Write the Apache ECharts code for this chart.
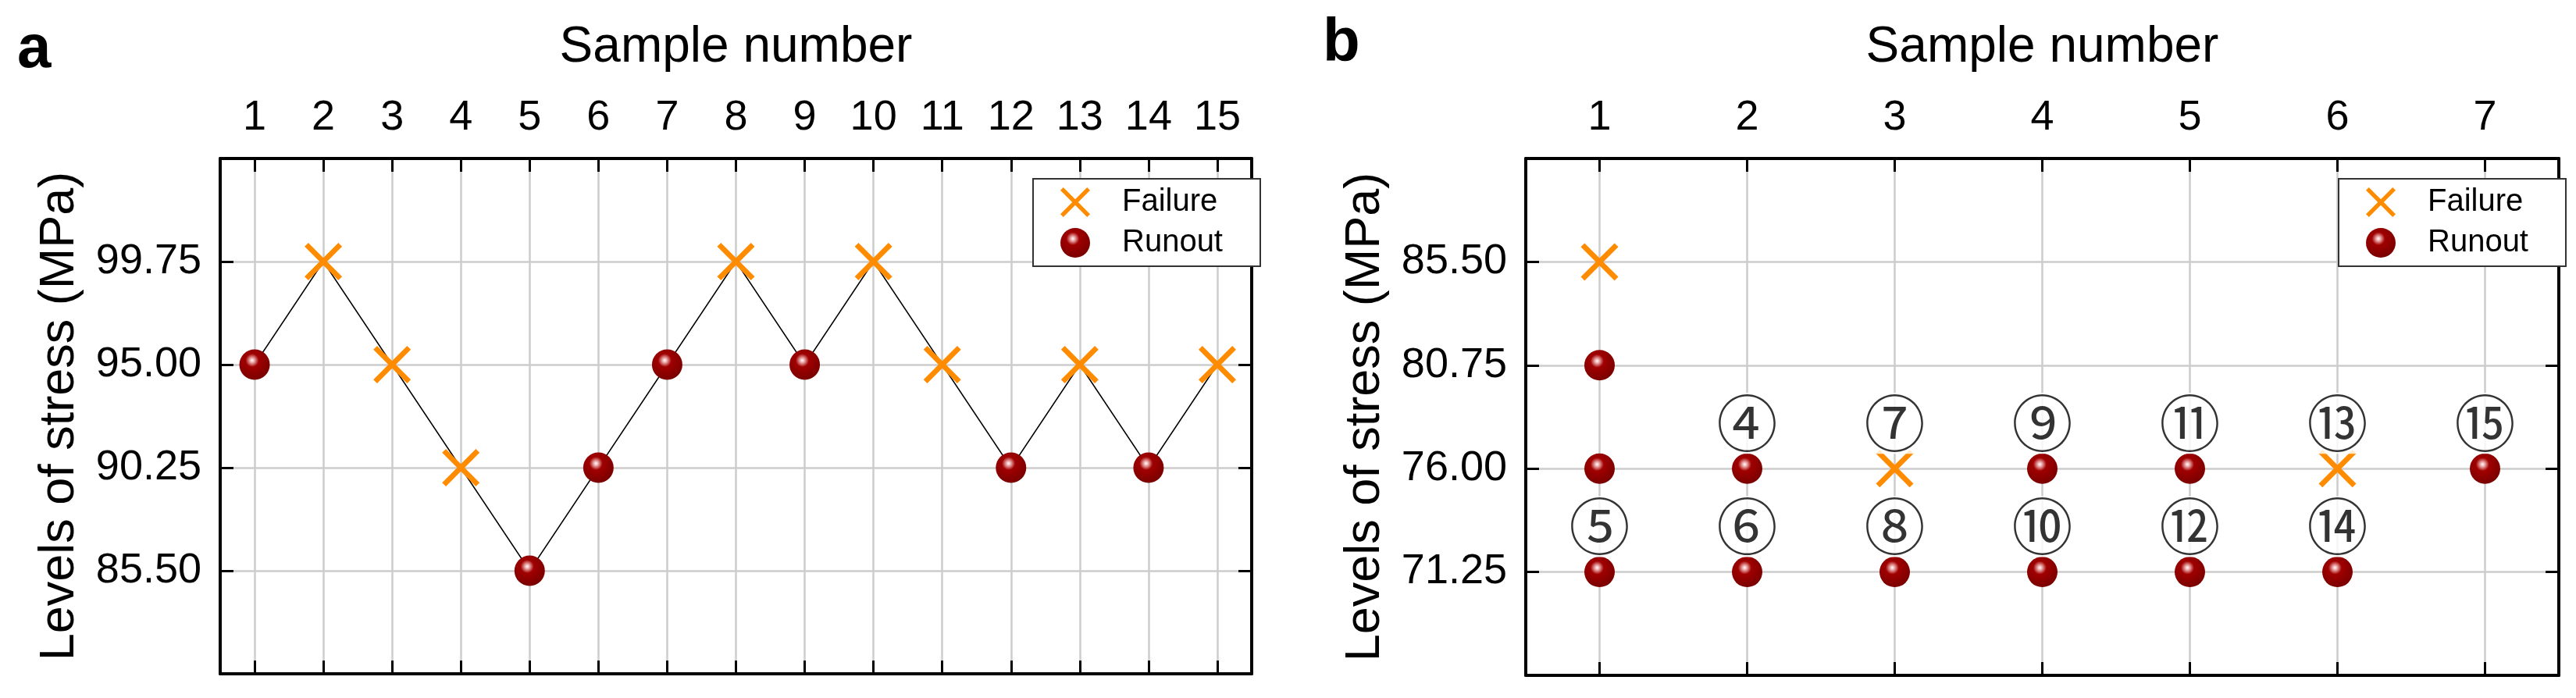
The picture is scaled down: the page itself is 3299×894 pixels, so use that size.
<!DOCTYPE html>
<html>
<head>
<meta charset="utf-8">
<script src="https://cdn.jsdelivr.net/npm/echarts@6/dist/echarts.min.js"></script>
<style>
  html, body { margin: 0; padding: 0; background: #fff; }
  #chart { width: 3299px; height: 894px; }
</style>
</head>
<body>
<div id="chart"></div>
<script>
// panel a: up-and-down sequence, 15 samples
const samplesA = [1, 2, 3, 4, 5, 6, 7, 8, 9, 10, 11, 12, 13, 14, 15];
const stressA = [95.00, 99.75, 95.00, 90.25, 85.50, 90.25, 95.00, 99.75, 95.00, 99.75, 95.00, 90.25, 95.00, 90.25, 95.00];
const resultA = ['R', 'F', 'F', 'F', 'R', 'R', 'R', 'F', 'R', 'F', 'F', 'R', 'F', 'R', 'F']; // F = failure, R = runout

// panel b: 7 columns, circled numbers give the test order
const samplesB = [1, 1, 1, 1, 2, 2, 3, 3, 4, 4, 5, 5, 6, 6, 7];
const stressB = [85.50, 80.75, 76.00, 71.25, 76.00, 71.25, 76.00, 71.25, 76.00, 71.25, 76.00, 71.25, 76.00, 71.25, 76.00];
const resultB = ['F', 'R', 'R', 'R', 'R', 'R', 'F', 'R', 'R', 'R', 'R', 'R', 'F', 'R', 'R'];
const orderB = ['', '', '', '⑤', '④', '⑥', '⑦', '⑧', '⑨', '⑩', '⑪', '⑫', '⑬', '⑭', '⑮'];

// axis ticks / labels
const sampleTicksA = samplesA;
const levelTicksA = [80.75, 85.50, 90.25, 95.00, 99.75, 104.50];
const levelLabelsA = [85.50, 90.25, 95.00, 99.75];
const sampleTicksB = [1, 2, 3, 4, 5, 6, 7];
const levelTicksB = [66.50, 71.25, 76.00, 80.75, 85.50, 90.25];
const levelLabelsB = [71.25, 76.00, 80.75, 85.50];

const FONT = 'Liberation Sans';
const CROSS = 'path://M0,10 L10,0 L50,40 L90,0 L100,10 L60,50 L100,90 L90,100 L50,60 L10,100 L0,90 L40,50 Z';
const ORANGE = '#ff8c00';
const ball = {
  type: 'radial', x: 0.42, y: 0.36, r: 0.64,
  colorStops: [
    { offset: 0, color: '#ffffff' },
    { offset: 0.13, color: '#e8a0a0' },
    { offset: 0.34, color: '#a00000' },
    { offset: 1, color: '#7a0000' }
  ]
};

const axisLine = { show: true, onZero: false, lineStyle: { color: '#000', width: 4 } };
const tickStyle = { color: '#000', width: 3 };
const gridLine = { show: true, lineStyle: { color: '#cccccc', width: 2.5 } };

const xAxes = (grid, min, max, ticks) => [
  {
    type: 'value', gridIndex: grid, position: 'top', min, max,
    name: 'Sample number', nameLocation: 'middle', nameGap: 110, nameMoveOverlap: false,
    nameTextStyle: { fontSize: 64, color: '#000', fontFamily: FONT },
    axisLine,
    axisTick: { show: true, inside: true, length: 17, lineStyle: tickStyle, customValues: ticks },
    axisLabel: { show: true, margin: 25, fontSize: 54, color: '#000', fontFamily: FONT, customValues: ticks },
    splitLine: gridLine
  },
  {
    type: 'value', gridIndex: grid, position: 'bottom', min, max,
    axisLine,
    axisTick: { show: true, inside: true, length: 17, lineStyle: tickStyle, customValues: ticks },
    axisLabel: { show: false },
    splitLine: { show: false }
  }
];

const yAxes = (grid, min, max, ticks, labels) => [
  {
    type: 'value', gridIndex: grid, position: 'left', min, max,
    name: 'Levels of stress (MPa)', nameLocation: 'middle', nameGap: 174, nameRotate: 90, nameMoveOverlap: false,
    nameTextStyle: { fontSize: 63, color: '#000', fontFamily: FONT },
    axisLine,
    axisTick: { show: true, inside: true, length: 17, lineStyle: tickStyle, customValues: ticks },
    axisLabel: {
      show: true, margin: 24, fontSize: 54, color: '#000', fontFamily: FONT,
      customValues: labels, formatter: v => v.toFixed(2)
    },
    splitLine: gridLine
  },
  {
    type: 'value', gridIndex: grid, position: 'right', min, max,
    axisLine,
    axisTick: { show: true, inside: true, length: 17, lineStyle: tickStyle, customValues: ticks },
    axisLabel: { show: false },
    splitLine: { show: false }
  }
];

const pick = (xs, ys, res, kind) =>
  xs.map((x, i) => [x, ys[i]]).filter((_, i) => res[i] === kind);

// text padding is not counted in the box width, so the right padding carries it
const legend = left => ({
  left, top: 229, orient: 'vertical', data: ['Failure', 'Runout'],
  selectedMode: false, symbolKeepAspect: true,
  itemWidth: 38, itemHeight: 38, itemGap: 12,
  padding: [10, 48, 10, 35],
  backgroundColor: '#fff', borderColor: '#333', borderWidth: 2,
  textStyle: { fontSize: 40, color: '#000', fontFamily: FONT, padding: [0, 0, 0, 36] }
});

const failure = (xi, data) => ({
  name: 'Failure', type: 'scatter', xAxisIndex: xi, yAxisIndex: xi, data,
  symbol: CROSS, symbolSize: 48, itemStyle: { color: ORANGE, opacity: 1 }, z: 4
});
const runout = (xi, data) => ({
  name: 'Runout', type: 'scatter', xAxisIndex: xi, yAxisIndex: xi, data,
  symbol: 'circle', symbolSize: 39, itemStyle: { color: ball, opacity: 1 }, z: 4
});

const myChart = echarts.init(document.getElementById('chart'));

const option = {
  animation: false,
  backgroundColor: '#fff',
  grid: [
    { left: 282, top: 203, width: 1321, height: 660, outerBoundsMode: 'none' },
    { left: 1954, top: 203, width: 1323, height: 662, outerBoundsMode: 'none' }
  ],
  xAxis: [...xAxes(0, 0.5, 15.5, sampleTicksA), ...xAxes(1, 0.5, 7.5, sampleTicksB)],
  yAxis: [...yAxes(0, 80.75, 104.5, levelTicksA, levelLabelsA), ...yAxes(1, 66.5, 90.25, levelTicksB, levelLabelsB)],
  legend: [legend(1323), legend(2995)],
  graphic: [
    { type: 'text', x: 22, y: 64, style: { text: 'a', font: 'bold 78px "Liberation Sans"', fill: '#000', align: 'left', verticalAlign: 'middle' } },
    { type: 'text', x: 1694, y: 56, style: { text: 'b', font: 'bold 78px "Liberation Sans"', fill: '#000', align: 'left', verticalAlign: 'middle' } }
  ],
  series: [
    {
      type: 'line', xAxisIndex: 0, yAxisIndex: 0, silent: true, symbol: 'none', z: 3,
      data: samplesA.map((s, i) => [s, stressA[i]]),
      lineStyle: { color: '#000', width: 1.5 }
    },
    failure(0, pick(samplesA, stressA, resultA, 'F')),
    runout(0, pick(samplesA, stressA, resultA, 'R')),
    failure(2, pick(samplesB, stressB, resultB, 'F')),
    runout(2, pick(samplesB, stressB, resultB, 'R')),
    {
      type: 'scatter', xAxisIndex: 2, yAxisIndex: 2, silent: true, z: 5,
      symbolSize: 2, itemStyle: { color: 'rgba(0,0,0,0)' },
      data: samplesB.map((s, i) => [s, stressB[i], orderB[i]]).filter(d => d[2] !== ''),
      label: {
        show: true, position: 'inside', offset: [0, -58],
        formatter: p => p.value[2],
        fontSize: 78, color: '#000', fontFamily: 'Noto Sans CJK SC',
        backgroundColor: '#fff', padding: [0, 0, 0, 0]
      }
    }
  ]
};

myChart.setOption(option);
window.addEventListener('resize', () => myChart.resize());
</script>
</body>
</html>
